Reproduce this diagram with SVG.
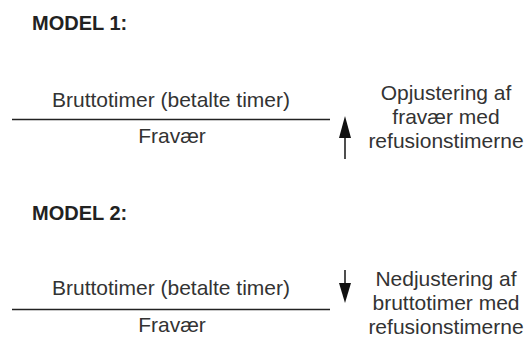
<svg xmlns="http://www.w3.org/2000/svg" width="527" height="340" viewBox="0 0 527 340">
<style>
.t{font-family:"Liberation Sans",Arial,sans-serif;font-size:21px;fill:#333;text-anchor:middle}
.h{font-family:"Liberation Sans",Arial,sans-serif;font-size:20px;font-weight:bold;fill:#222}
.ln{stroke:#222;stroke-width:1.6}
.ar{fill:#111}
</style>
<rect width="527" height="340" fill="#fff"/>
<g id="model1">
<text class="h" x="32" y="30">MODEL 1:</text>
<text class="t" x="171" y="107">Bruttotimer (betalte timer)</text>
<line class="ln" x1="12" y1="119.5" x2="330" y2="119.5"/>
<text class="t" x="172" y="143">Fravær</text>
<text class="t" x="446" y="100">Opjustering af</text>
<text class="t" x="446" y="124">fravær med</text>
<text class="t" x="446" y="148">refusionstimerne</text>
</g>
<g id="model2">
<text class="h" x="32" y="220">MODEL 2:</text>
<text class="t" x="171" y="295">Bruttotimer (betalte timer)</text>
<line class="ln" x1="12" y1="309.5" x2="330" y2="309.5"/>
<text class="t" x="172" y="332">Fravær</text>
<text class="t" x="446" y="286">Nedjustering af</text>
<text class="t" x="446" y="310">bruttotimer med</text>
<text class="t" x="446" y="334">refusionstimerne</text>
</g>
<g id="connectors">
<line class="ln" x1="345" y1="136" x2="345" y2="159"/>
<polygon class="ar" points="345,116 351,138 339,138"/>
<line class="ln" x1="345" y1="270" x2="345" y2="285"/>
<polygon class="ar" points="339,283 351,283 345,303"/>
</g>
</svg>
